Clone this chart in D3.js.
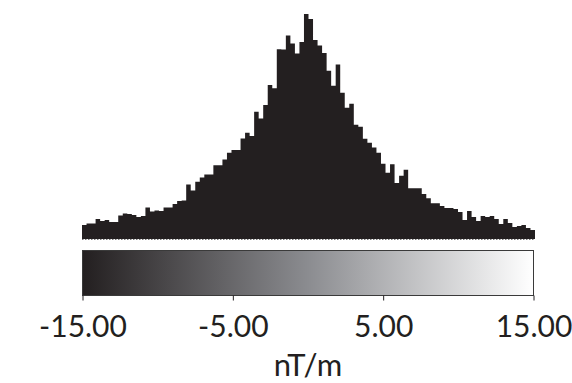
<!DOCTYPE html>
<html>
<head>
<meta charset="utf-8">
<script src="https://cdn.jsdelivr.net/npm/d3@7"></script>
<style>
    body { margin: 0; background: #fff; }
    svg { display: block; }
</style>
</head>
<body>
<div id="chart"></div>
<script>

//******************************************************************************
//**  Data
//******************************************************************************
var binStart = -15;
var binWidth = 0.3;
var counts = [
    14, 15.5, 15.5, 20, 18, 19, 17, 17, 23.5, 25.5,
    25, 24, 22, 23, 31.5, 27.5, 28.5, 28, 31.5, 31.5,
    35, 38, 38.5, 54.5, 48.5, 57, 61.3, 64.3, 64.3, 73.7,
    73.7, 79.3, 86, 88.7, 88.7, 100.3, 106, 102.7, 127, 120.3,
    133.7, 153.7, 150.3, 189.3, 189, 203, 195, 185, 196.5, 224.5,
    219.5, 198.5, 193, 185.5, 168, 153, 174, 146, 131, 135,
    114, 112, 100, 96, 91.3, 86, 75, 66, 74.7, 56,
    63, 69, 50.7, 50.7, 50.7, 45, 40.7, 35.7, 35.7, 33,
    31, 31, 30, 27, 19, 28, 22, 18, 23, 22,
    23, 20, 15, 20, 16, 12, 13, 14, 11, 9
];
var tickValues = [-15, -5, 5, 15];
var axisLabel = "nT/m";


//******************************************************************************
//**  Chart
//******************************************************************************
var width = 572;
var height = 383;
var dark = "#231f20";
var font = "Lato, 'Open Sans', sans-serif";

var svg = d3.select("#chart").append("svg")
    .attr("width", width)
    .attr("height", height);

var x = d3.scaleLinear().domain([-15, 15]).range([82.5, 533.5]);
var histX = d3.scaleLinear().domain([-15, 15]).range([82, 535]);
var y = d3.scaleLinear().domain([0, d3.max(counts)]).range([239, 14]);


//**************************************************************************
//** histogram (step area, so adjacent bins have no seams)
//**************************************************************************
var bins = counts.map(function(c, i){
    return {x0: binStart + i*binWidth, count: c};
});
bins.push({x0: binStart + counts.length*binWidth, count: counts[counts.length-1]});

var area = d3.area()
    .curve(d3.curveStepAfter)
    .x(function(d){ return histX(d.x0); })
    .y0(y(0))
    .y1(function(d){ return y(d.count); });

svg.append("path")
    .datum(bins)
    .attr("d", area)
    .attr("fill", dark);

//dotted base line
svg.append("line")
    .attr("x1", histX(-15)).attr("x2", histX(15))
    .attr("y1", y(0) + 0.5).attr("y2", y(0) + 0.5)
    .attr("stroke", "#777")
    .attr("stroke-width", 1)
    .attr("stroke-dasharray", "1.5,1.5");


//**************************************************************************
//** colorbar
//**************************************************************************
var defs = svg.append("defs");
var grad = defs.append("linearGradient")
    .attr("id", "cbar")
    .attr("x1", "0%").attr("x2", "100%")
    .attr("y1", "0%").attr("y2", "0%");
grad.append("stop").attr("offset", "0%").attr("stop-color", dark);
grad.append("stop").attr("offset", "50%").attr("stop-color", "#8b8c90");
grad.append("stop").attr("offset", "100%").attr("stop-color", "#ffffff");

var barTop = 250.5, barBottom = 295.5;
svg.append("rect")
    .attr("x", x(-15))
    .attr("y", barTop)
    .attr("width", x(15) - x(-15))
    .attr("height", barBottom - barTop)
    .attr("fill", "url(#cbar)")
    .attr("stroke", "#3a3a3a")
    .attr("stroke-width", 1);


//**************************************************************************
//** axis
//**************************************************************************
var axis = d3.axisBottom(x)
    .tickValues(tickValues)
    .tickFormat(function(d){ return d.toFixed(2); }) //plain hyphen, not unicode minus
    .tickSize(5)
    .tickSizeOuter(0);

var g = svg.append("g")
    .attr("transform", "translate(0," + barBottom + ")")
    .call(axis);

g.select(".domain").remove();
g.selectAll(".tick line").attr("stroke", dark);
g.selectAll(".tick text")
    .attr("y", 41)
    .attr("dy", 0)
    .attr("fill", dark)
    .style("font-family", font)
    .style("font-size", "30px");

svg.append("text")
    .attr("x", (x(-15) + x(15))/2)
    .attr("y", 376)
    .attr("text-anchor", "middle")
    .attr("fill", dark)
    .style("font-family", font)
    .style("font-size", "31px")
    .text(axisLabel);

</script>
</body>
</html>
